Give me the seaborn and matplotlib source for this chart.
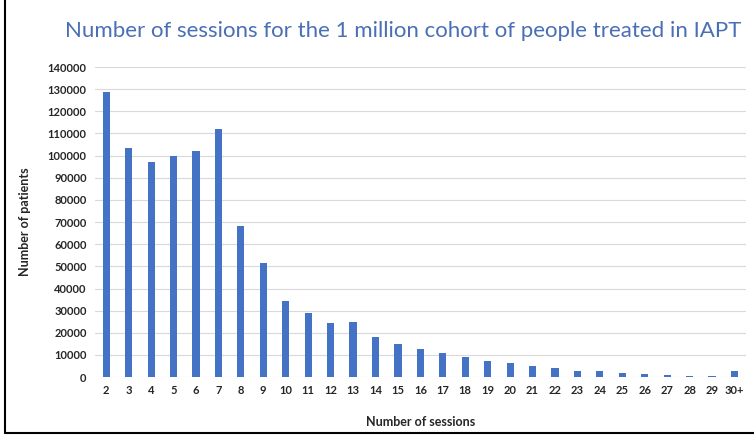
import pandas as pd
import numpy as np
import seaborn as sns
import matplotlib.pyplot as plt
from matplotlib.lines import Line2D

# data
sessions = ['2', '3', '4', '5', '6', '7', '8', '9', '10', '11', '12', '13', '14', '15',
            '16', '17', '18', '19', '20', '21', '22', '23', '24', '25', '26', '27', '28',
            '29', '30+']
patients = [128500, 103500, 97000, 100000, 102000, 112000, 68000, 51500, 34500, 28800,
            24600, 25100, 18200, 15000, 12700, 10800, 8900, 7100, 6200, 5100, 3900,
            2900, 2600, 2000, 1500, 1100, 600, 600, 2900]
y_ticks = list(range(0, 140001, 10000))

df = pd.DataFrame({'sessions': sessions, 'patients': patients})

sns.set_theme(style='white')
plt.rcParams['font.family'] = ['Lato', 'DejaVu Sans']

fig = plt.figure(figsize=(7.54, 4.38), dpi=100)
ax = fig.add_axes([0.126, 0.139, 0.863, 0.708])

sns.barplot(data=df, x='sessions', y='patients', order=sessions,
            color='#4472C4', saturation=1, width=0.32, linewidth=0, ax=ax)

ax.set_ylim(0, 140000)
ax.set_yticks(y_ticks)
ax.set_yticklabels([str(v) for v in y_ticks])
ax.yaxis.grid(True, color='#d9d9d9', linewidth=0.8)
ax.set_axisbelow(True)
for s in ax.spines.values():
    s.set_visible(False)
ax.tick_params(axis='both', length=0, labelsize=8, labelcolor='#262626', pad=6)
for lab in ax.get_xticklabels() + ax.get_yticklabels():
    lab.set_fontweight('bold')

ax.set_xlabel('Number of sessions', fontsize=9, fontweight='bold', color='#262626', labelpad=14)
ax.set_ylabel('Number of patients', fontsize=9, fontweight='bold', color='#262626', labelpad=12)

fig.text(0.535, 0.93, 'Number of sessions for the 1 million cohort of people treated in IAPT',
         ha='center', va='center', fontsize=16, color='#4a6fb5')

# frame lines on the left and bottom of the picture
fig.add_artist(Line2D([5 / 754, 5 / 754], [5 / 438, 1], color='black', linewidth=1.5))
fig.add_artist(Line2D([5 / 754, 1], [5 / 438, 5 / 438], color='black', linewidth=1.5))

fig.savefig('out.png', dpi=100)
